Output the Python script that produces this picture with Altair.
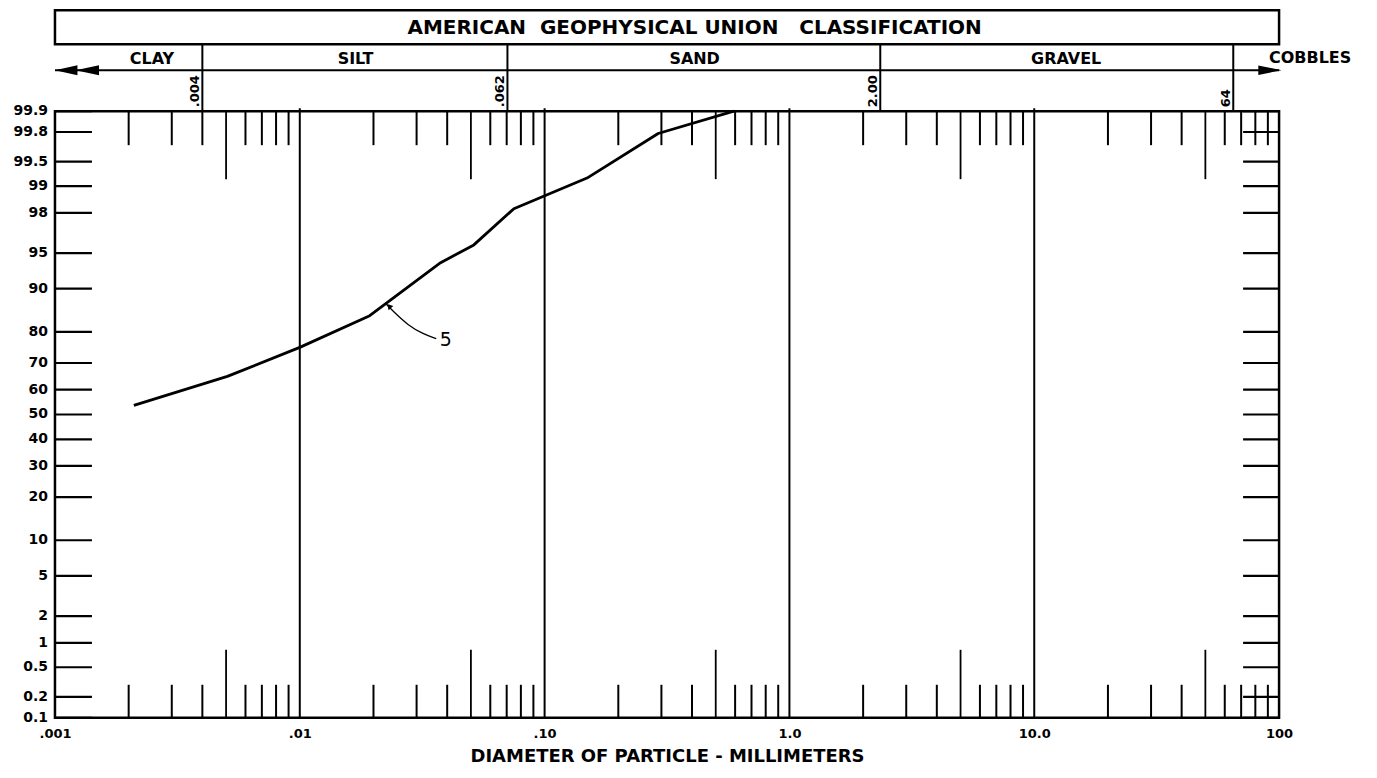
import altair as alt
import pandas as pd

# ---------------- data ----------------
# cumulative curve "5": particle diameter (mm) vs percent finer
diam = [0.0021, 0.00506, 0.01, 0.0193, 0.0376, 0.0514, 0.0749, 0.0996, 0.149, 0.291, 0.593]
pct_finer = [53.7, 65.1, 75.3, 84.3, 93.9, 95.8, 98.2, 98.7, 99.2, 99.79, 99.9]

# probability (y) axis ticks
prob_ticks = [99.9, 99.8, 99.5, 99, 98, 95, 90, 80, 70, 60, 50, 40, 30, 20, 10, 5, 2, 1, 0.5, 0.2, 0.1]
prob_labels = ["99.9", "99.8", "99.5", "99", "98", "95", "90", "80", "70", "60", "50",
               "40", "30", "20", "10", "5", "2", "1", "0.5", "0.2", "0.1"]

# diameter (x) axis
x_major = [0.001, 0.01, 0.1, 1, 10, 100]
x_major_labels = [".001", ".01", ".10", "1.0", "10.0", "100"]
decades = [0.001, 0.01, 0.1, 1, 10]
minor_mult = [2, 3, 4, 6, 7, 8, 9]
long_mult = [5]

# classification header
header_title = "AMERICAN\u00a0\u00a0GEOPHYSICAL UNION\u00a0\u00a0\u00a0CLASSIFICATION"
header_title_at = [0.41]
class_names = ["CLAY", "SILT", "SAND", "GRAVEL"]
class_label_at = [0.00249, 0.0169, 0.41, 13.5]
beyond_name = ["COBBLES"]
beyond_at = [91]
boundary_labels = [".004", ".062", "2.00", "64"]
boundary_at = [0.004, 0.0705, 2.35, 65]

# curve annotation
curve_label = ["5"]
curve_label_d = [0.0373]
curve_label_p = [77.75]
leader_d = [0.0223, 0.0243, 0.0275, 0.0318, 0.0361]
leader_p = [87.2, 85.1, 82.0, 79.4, 78.0]
arrow_d = [0.0233]
arrow_p = [86.4]

x_title = "DIAMETER OF PARTICLE - MILLIMETERS"

# ---------------- layout / style ----------------
W, H = 1225, 607
FONT = "DejaVu Sans"
INK = "black"
# arrowhead outlines (symbol space, tip at the anchor)
LEFT_ARROWS = "M0,0L1.25,-0.28L1.25,0.28Z M1.15,0L2.45,-0.28L2.45,0.28Z"
RIGHT_ARROW = "M0.15,0L-1.3,-0.3L-1.3,0.3Z"

x_scale = alt.Scale(type="log", domain=[x_major[0], x_major[-1]], nice=False)
y_scale = alt.Scale(zero=False, nice=False)

label_expr = " : ".join(f"datum.value == {v} ? '{l}'" for v, l in zip(x_major, x_major_labels)) + " : ''"
x_axis = alt.Axis(values=x_major, labelExpr=label_expr, ticks=False, domain=False, grid=False,
                  labelFlush=False, labelFont=FONT, labelFontSize=13, labelFontWeight="bold",
                  labelColor=INK, labelPadding=10, labelBaseline="top",
                  title=x_title, titleFont=FONT, titleFontSize=18, titleFontWeight="bold",
                  titleColor=INK, titlePadding=7)


def X(field, **kw):
    return alt.X(field, type="quantitative", scale=x_scale, axis=x_axis, **kw)


def Y(field):
    return alt.Y(field, type="quantitative", scale=y_scale, axis=None)


zcalc = {"z": "quantileNormal(datum.p / 100)"}

curve_df = pd.DataFrame({"d": diam, "p": pct_finer})
prob_df = pd.DataFrame({"p": prob_ticks, "label": prob_labels})
major_df = pd.DataFrame({"d": x_major[1:-1]})
minor_df = pd.DataFrame({"d": [dec * m for dec in decades for m in minor_mult]})
long_df = pd.DataFrame({"d": [dec * m for dec in decades for m in long_mult]})
class_df = pd.DataFrame({"d": class_label_at, "name": class_names})
beyond_df = pd.DataFrame({"d": beyond_at, "name": beyond_name})
bound_df = pd.DataFrame({"d": boundary_at, "label": boundary_labels})
span_df = pd.DataFrame({"d": [x_major[0]], "d2": [x_major[-1]]})
title_df = pd.DataFrame({"d": header_title_at, "t": [header_title]})
leader_df = pd.DataFrame({"d": leader_d, "p": leader_p})
arrow_df = pd.DataFrame({"d": arrow_d, "p": arrow_p})
clab_df = pd.DataFrame({"d": curve_label_d, "p": curve_label_p, "t": curve_label})

layers = []

# major vertical lines
layers.append(alt.Chart(major_df).mark_rule(color=INK, strokeWidth=2).encode(
    x=X("d"), y=alt.value(-3), y2=alt.value(H)))
# minor ticks top / bottom
layers.append(alt.Chart(minor_df).mark_rule(color=INK, strokeWidth=2).encode(
    x=X("d"), y=alt.value(0), y2=alt.value(34)))
layers.append(alt.Chart(long_df).mark_rule(color=INK, strokeWidth=1.8).encode(
    x=X("d"), y=alt.value(0), y2=alt.value(68)))
layers.append(alt.Chart(minor_df).mark_rule(color=INK, strokeWidth=2).encode(
    x=X("d"), y=alt.value(H - 33), y2=alt.value(H)))
layers.append(alt.Chart(long_df).mark_rule(color=INK, strokeWidth=1.8).encode(
    x=X("d"), y=alt.value(H - 68), y2=alt.value(H)))

# probability ticks left / right and labels
layers.append(alt.Chart(prob_df).transform_calculate(**zcalc).mark_rule(color=INK, strokeWidth=2.2).encode(
    y=Y("z"), x=alt.value(0), x2=alt.value(37)))
layers.append(alt.Chart(prob_df).transform_calculate(**zcalc).mark_rule(color=INK, strokeWidth=2.2).encode(
    y=Y("z"), x=alt.value(W - 36), x2=alt.value(W)))
layers.append(alt.Chart(prob_df).transform_calculate(**zcalc).mark_text(
    align="right", baseline="middle", font=FONT, fontSize=14, fontWeight="bold", color=INK).encode(
    y=Y("z"), x=alt.value(-7), text="label:N"))

# the curve
layers.append(alt.Chart(curve_df).transform_calculate(**zcalc).mark_line(
    color=INK, strokeWidth=2.8, strokeJoin="round").encode(x=X("d"), y=Y("z")))

# leader, arrowhead and label "5"
layers.append(alt.Chart(leader_df).transform_calculate(**zcalc).mark_line(
    color=INK, strokeWidth=1.3, interpolate="basis").encode(x=X("d"), y=Y("z")))
layers.append(alt.Chart(arrow_df).transform_calculate(**zcalc).mark_point(
    shape="triangle", filled=True, size=40, angle=318, color=INK, opacity=1).encode(x=X("d"), y=Y("z")))
layers.append(alt.Chart(clab_df).transform_calculate(**zcalc).mark_text(
    align="left", baseline="middle", font=FONT, fontSize=19, color=INK).encode(
    x=X("d"), y=Y("z"), text="t:N"))

# ---------------- classification header ----------------
layers.append(alt.Chart(span_df).mark_rect(fillOpacity=0, stroke=INK, strokeWidth=2.5).encode(
    x=X("d"), x2="d2", y=alt.value(-101), y2=alt.value(-67)))
layers.append(alt.Chart(title_df).mark_text(
    align="center", baseline="middle", font=FONT, fontSize=20, fontWeight="bold", color=INK).encode(
    x=X("d"), y=alt.value(-83), text="t:N"))
layers.append(alt.Chart(class_df).mark_text(
    align="center", baseline="middle", font=FONT, fontSize=16, fontWeight="bold", color=INK).encode(
    x=X("d"), y=alt.value(-52), text="name:N"))
layers.append(alt.Chart(beyond_df).mark_text(
    align="left", baseline="middle", font=FONT, fontSize=16, fontWeight="bold", color=INK).encode(
    x=X("d"), y=alt.value(-53), text="name:N"))
# arrow line with arrowheads
layers.append(alt.Chart(span_df).mark_rule(color=INK, strokeWidth=2).encode(
    x=X("d"), x2="d2", y=alt.value(-41)))
layers.append(alt.Chart(span_df).mark_point(
    shape=LEFT_ARROWS, filled=True, size=1296, color=INK, opacity=1, strokeWidth=0).encode(
    x=X("d"), y=alt.value(-41)))
layers.append(alt.Chart(span_df).mark_point(
    shape=RIGHT_ARROW, filled=True, size=1024, color=INK, opacity=1, strokeWidth=0).encode(
    x=X("d2"), y=alt.value(-41)))
# boundary lines and labels
layers.append(alt.Chart(bound_df).mark_rule(color=INK, strokeWidth=2).encode(
    x=X("d"), y=alt.value(-67), y2=alt.value(0)))
layers.append(alt.Chart(bound_df).mark_text(
    angle=270, align="left", baseline="bottom", font=FONT, fontSize=13, fontWeight="bold", color=INK).encode(
    x=X("d"), y=alt.value(-4), text="label:N"))

chart = alt.layer(*layers).properties(
    width=W, height=H,
    padding={"left": 47, "top": 103, "right": 90, "bottom": 50},
    autosize=alt.AutoSizeParams(type="none"),
    background="white",
).configure_view(stroke=INK, strokeWidth=2.5)

chart.save("out.html", embed_options={"renderer": "svg", "actions": False})
